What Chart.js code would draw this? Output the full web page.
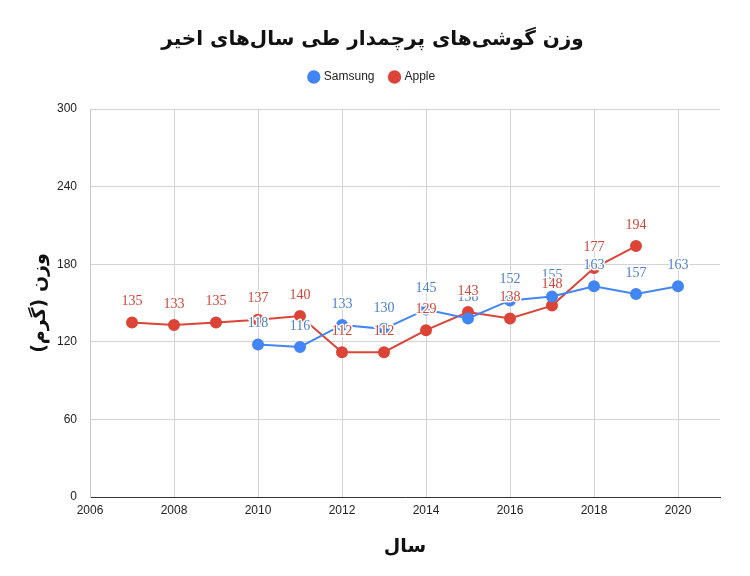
<!DOCTYPE html>
<html>
<head>
<meta charset="utf-8">
<script src="https://cdn.jsdelivr.net/npm/chart.js@4.4.0/dist/chart.umd.min.js"></script>
<style>
  html, body { margin: 0; padding: 0; background: #fff; }
  #wrap { width: 750px; height: 576px; }
</style>
</head>
<body>
<div id="wrap"><canvas id="chart" width="750" height="576"></canvas></div>
<script>
const appleYears = [2007, 2008, 2009, 2010, 2011, 2012, 2013, 2014, 2015, 2016, 2017, 2018, 2019];
const appleWeight = [135, 133, 135, 137, 140, 112, 112, 129, 143, 138, 148, 177, 194];
const samsungYears = [2010, 2011, 2012, 2013, 2014, 2015, 2016, 2017, 2018, 2019, 2020];
const samsungWeight = [118, 116, 133, 130, 145, 138, 152, 155, 163, 157, 163];
const xTicks = [2006, 2008, 2010, 2012, 2014, 2016, 2018, 2020];
const yTicks = [0, 60, 120, 180, 240, 300];

const BLUE = '#4285F4';
const RED = '#DB4437';

const toPoints = (xs, ys) => xs.map((x, i) => ({ x, y: ys[i] }));

// value labels above each point, with a white halo like the original
const pointLabels = {
  id: 'pointLabels',
  afterDatasetsDraw(chart) {
    const ctx = chart.ctx;
    ctx.save();
    ctx.font = '14px "Liberation Serif", serif';
    ctx.textAlign = 'center';
    ctx.textBaseline = 'middle';
    ctx.lineJoin = 'round';
    chart.data.datasets.forEach((ds, i) => {
      const meta = chart.getDatasetMeta(i);
      meta.data.forEach((pt, j) => {
        const txt = String(ds.data[j].y);
        ctx.strokeStyle = '#fff';
        ctx.lineWidth = 3;
        ctx.strokeText(txt, pt.x, pt.y - 21);
        ctx.fillStyle = ds.labelColor;
        ctx.fillText(txt, pt.x, pt.y - 21);
      });
    });
    ctx.restore();
  }
};

const legendSpace = {
  id: 'legendSpace',
  beforeInit(chart) {
    const origFit = chart.legend.fit;
    chart.legend.fit = function () {
      origFit.bind(chart.legend)();
      this.height += 16;
    };
  }
};

new Chart(document.getElementById('chart'), {
  type: 'line',
  data: {
    datasets: [
      {
        label: 'Samsung',
        data: toPoints(samsungYears, samsungWeight),
        borderColor: BLUE,
        backgroundColor: BLUE,
        labelColor: '#4a80cc',
        borderWidth: 2,
        pointRadius: 5,
        pointHoverRadius: 5,
        tension: 0
      },
      {
        label: 'Apple',
        data: toPoints(appleYears, appleWeight),
        borderColor: RED,
        backgroundColor: RED,
        labelColor: '#d0453a',
        borderWidth: 2,
        pointRadius: 5,
        pointHoverRadius: 5,
        tension: 0
      }
    ]
  },
  options: {
    responsive: false,
    animation: false,
    layout: { padding: { left: 25, right: 30, bottom: 14, top: 0 } },
    plugins: {
      title: {
        display: true,
        text: 'وزن گوشی‌های پرچمدار طی سال‌های اخیر',
        color: '#111',
        font: { family: '"DejaVu Sans", sans-serif', size: 20, weight: 'bold' },
        padding: { top: 28, bottom: 3 }
      },
      legend: {
        display: true,
        labels: {
          usePointStyle: true,
          pointStyle: 'circle',
          boxWidth: 8,
          boxHeight: 8,
          padding: 16,
          color: '#222',
          font: { family: '"Liberation Sans", Arial, sans-serif', size: 12 }
        }
      },
      tooltip: { enabled: false }
    },
    scales: {
      x: {
        type: 'linear',
        min: 2006,
        max: 2021,
        afterBuildTicks: s => { s.ticks = xTicks.map(v => ({ value: v })); },
        afterFit: s => { s.height = 65; },
        ticks: {
          color: '#222',
          padding: 6,
          font: { family: '"Liberation Sans", Arial, sans-serif', size: 12 },
          callback: v => String(v)
        },
        grid: { color: '#d3d3d3', drawTicks: false },
        border: { color: '#333', width: 1 },
        title: {
          display: true,
          text: 'سال',
          color: '#111',
          font: { family: '"DejaVu Sans", sans-serif', size: 19, weight: 'bold' },
          padding: { top: 14 }
        }
      },
      y: {
        min: 0,
        max: 300,
        afterBuildTicks: s => { s.ticks = yTicks.map(v => ({ value: v })); },
        afterFit: s => { s.width = 65; },
        ticks: {
          color: '#222',
          padding: 13,
          font: { family: '"Liberation Sans", Arial, sans-serif', size: 12 }
        },
        grid: { color: '#d3d3d3', drawTicks: false },
        border: { color: '#c8c8c8' },
        title: {
          display: true,
          text: 'وزن (گرم)',
          color: '#111',
          font: { family: '"DejaVu Sans", sans-serif', size: 19, weight: 'bold' },
          padding: { bottom: 8 }
        }
      }
    }
  },
  plugins: [pointLabels, legendSpace]
});
</script>
</body>
</html>
